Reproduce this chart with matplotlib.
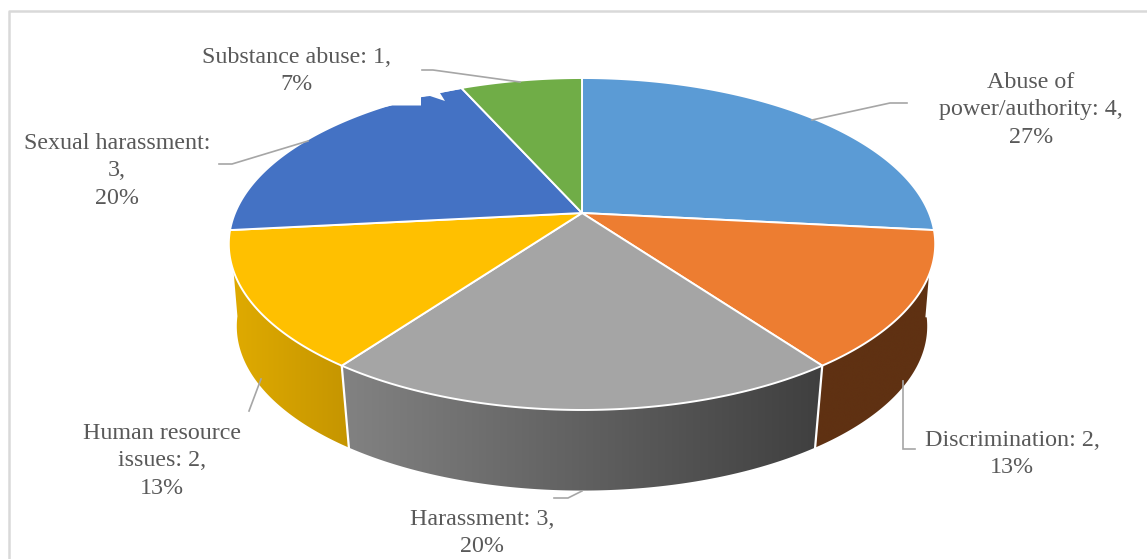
#!/usr/bin/env python3
"""3D-look pie of complaint categories, drawn on a pixel-sized axes."""
import matplotlib
matplotlib.use("Agg")
import matplotlib.pyplot as plt
import numpy as np
from matplotlib.colors import to_rgb
from matplotlib.patches import Polygon

categories = ["Abuse of power/authority", "Discrimination", "Harassment",
              "Human resource issues", "Sexual harassment", "Substance abuse"]
counts = [4, 2, 3, 2, 3, 1]
top_colors = ["#5b9bd5", "#ed7d31", "#a5a5a5", "#ffc000", "#4472c4", "#70ad47"]
side_left = ["#3a6a96", "#5f3112", "#828282", "#e0ab00", "#2c4a80", "#4a7530"]
side_right = ["#3a6a96", "#5f3112", "#3f3f3f", "#c59500", "#2c4a80", "#4a7530"]
label_texts = ["Abuse of\npower/authority: 4,\n27%",
               "Discrimination: 2,\n13%",
               "Harassment: 3,\n20%",
               "Human resource\nissues: 2,\n13%",
               "Sexual harassment:\n3,\n20%",
               "Substance abuse: 1,\n7%"]
label_xy = [(1031, 110), (1012, 454), (482, 533), (162, 461), (117, 171), (296, 71)]
leaders = [[(907, 103), (890, 103), (812, 120)],
           [(903, 381), (903, 449), (915, 449)],
           [(582, 491), (568, 498), (554, 498)],
           [(261, 379), (249, 411)],
           [(308, 141), (232, 164), (219, 164)],
           [(520, 82), (433, 70), (422, 70)]]
notch = [(375, 109), (392, 105.5), (421, 105.5), (421, 97), (430, 96), (445, 101),
         (440, 93), (461, 89), (461, 80), (375, 80)]

W, H = 1147, 559
CX, CY = 582, 213
RX, RY, PERSP = 347, 160.2, 0.1867
# lower rim of the cylinder: same ellipse, slightly shrunk and shifted down
BOT_SCALE, BOT_CY = 0.97, 299.5
WALL_A0, WALL_A1 = np.radians(96), np.radians(264)


def rim(theta, scale=1.0, cy=CY):
    # theta clockwise from 12 o'clock, on a circle seen in perspective
    x, y = np.sin(theta), np.cos(theta)
    d = 1 + PERSP * y
    return CX + scale * RX * x / d, cy - scale * RY * y / d


fig = plt.figure(figsize=(W / 100, H / 100), dpi=100)
ax = fig.add_axes([0, 0, 1, 1])
plt.rcParams["font.family"] = ["Liberation Serif", "DejaVu Serif"]

fracs = np.array(counts) / sum(counts)
edges = np.concatenate([[0], np.cumsum(fracs)]) * 2 * np.pi

# front wall, only where the rim faces the viewer
for i in range(len(counts)):
    a0, a1 = max(edges[i], WALL_A0), min(edges[i + 1], WALL_A1)
    if a1 <= a0:
        continue
    ts = np.linspace(a0, a1, 160)
    xt, yt = rim(ts)
    # lower rim flares a little near the ends so the silhouette stays smooth
    u = np.abs(ts - np.pi) / (WALL_A1 - np.pi)
    xb, yb = rim(ts, BOT_SCALE + 0.009 * u ** 4, BOT_CY)
    wall = Polygon(np.column_stack([np.r_[xt, xb[::-1]], np.r_[yt, yb[::-1]]]),
                   fc="none", ec="none", transform=ax.transData)
    ax.add_patch(wall)
    # horizontal shading across the wall, clipped to its outline
    lo, hi = np.array(to_rgb(side_left[i])), np.array(to_rgb(side_right[i]))
    shade = np.linspace(0, 1, 256)[None, :, None]
    x0, x1 = min(xt.min(), xb.min()), max(xt.max(), xb.max())
    im = ax.imshow(lo + (hi - lo) * shade, extent=(x0, x1, yb.max() + 1, yt.min() - 1),
                   aspect="auto", interpolation="bilinear", zorder=2)
    im.set_clip_path(wall)
    if np.pi / 2 < edges[i] < 3 * np.pi / 2:
        ax.plot([xt[0], xb[0]], [yt[0], yb[0]], color="white", lw=1.6, zorder=3)

ax.set_xlim(0, W)
ax.set_ylim(H, 0)
ax.axis("off")

# chart frame, only the top and left sides are inside the crop
ax.plot([9, 9, W], [H, 11, 11], color="#d9d9d9", lw=1.8, zorder=1)

# top faces
for i in range(len(counts)):
    ts = np.linspace(edges[i], edges[i + 1], 200)
    xt, yt = rim(ts)
    pts = np.column_stack([np.r_[CX, xt], np.r_[CY, yt]])
    ax.add_patch(Polygon(pts, fc=top_colors[i], ec="white", lw=1.4,
                         joinstyle="miter", zorder=4))

# white nick in the blue slice's outer edge, as in the source image
ax.add_patch(Polygon(notch, fc="white", ec="white", lw=0, zorder=5))

for pts in leaders:
    xs, ys = zip(*pts)
    ax.plot(xs, ys, color="#a6a6a6", lw=1.2, zorder=6, solid_joinstyle="miter")

for (x, y), txt in zip(label_xy, label_texts):
    ax.text(x, y, txt, ha="center", va="center", fontsize=17.3, color="#595959",
            linespacing=1.385, zorder=7)

fig.savefig("out.png", dpi=100)
